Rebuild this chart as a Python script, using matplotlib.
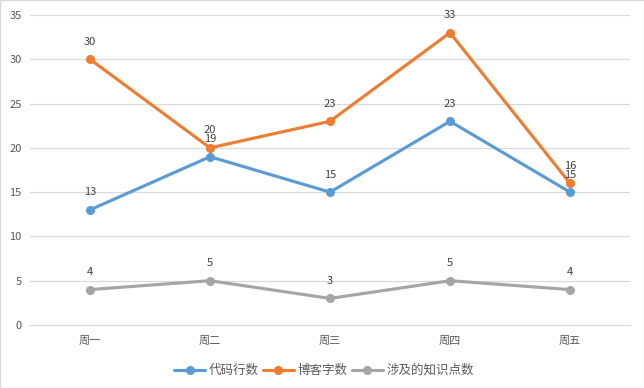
import matplotlib.pyplot as plt

plt.rcParams['font.family'] = ['Noto Sans CJK SC', 'DejaVu Sans']

days = ['周一', '周二', '周三', '周四', '周五']
code_lines = [13, 19, 15, 23, 15]
blog_words = [30, 20, 23, 33, 16]
knowledge = [4, 5, 3, 5, 4]

series = [
    ('代码行数', code_lines, '#5B9BD5'),
    ('博客字数', blog_words, '#ED7D31'),
    ('涉及的知识点数', knowledge, '#A5A5A5'),
]

fig = plt.figure(figsize=(6.44, 3.88), dpi=100)
ax = fig.add_axes([30 / 644, 63 / 388, 600 / 644, 310 / 388])

x = list(range(len(days)))
for name, vals, color in series:
    ax.plot(x, vals, color=color, linewidth=2.25, marker='o', markersize=5.5,
            label=name, solid_capstyle='round')
    for xi, v in zip(x, vals):
        ax.annotate(str(v), (xi, v), xytext=(0, 9), textcoords='offset points',
                    ha='center', va='bottom', fontsize=8, color='#404040')

ax.set_xlim(-0.5, len(days) - 0.5)
ax.set_ylim(0, 35)
ax.set_yticks(range(0, 36, 5))
ax.set_xticks(x)
ax.set_xticklabels(days)
ax.grid(axis='y', color='#D9D9D9', linewidth=0.9)
ax.set_axisbelow(True)
for s in ['top', 'right', 'left']:
    ax.spines[s].set_visible(False)
ax.spines['bottom'].set_color('#D9D9D9')
ax.tick_params(length=0, labelsize=8, colors='#595959', pad=8)
ax.tick_params(axis='y', pad=6)

ax.legend(loc='upper center', bbox_to_anchor=(0.49, -0.09), ncol=3, frameon=False,
          fontsize=9, handlelength=2.5, columnspacing=0.3, handletextpad=0.3,
          labelcolor='#595959')

fig.patches.append(plt.Rectangle((0, 0), 1, 1, transform=fig.transFigure,
                                 fill=False, edgecolor='#D9D9D9', linewidth=1))

fig.savefig('out.png', dpi=100)
